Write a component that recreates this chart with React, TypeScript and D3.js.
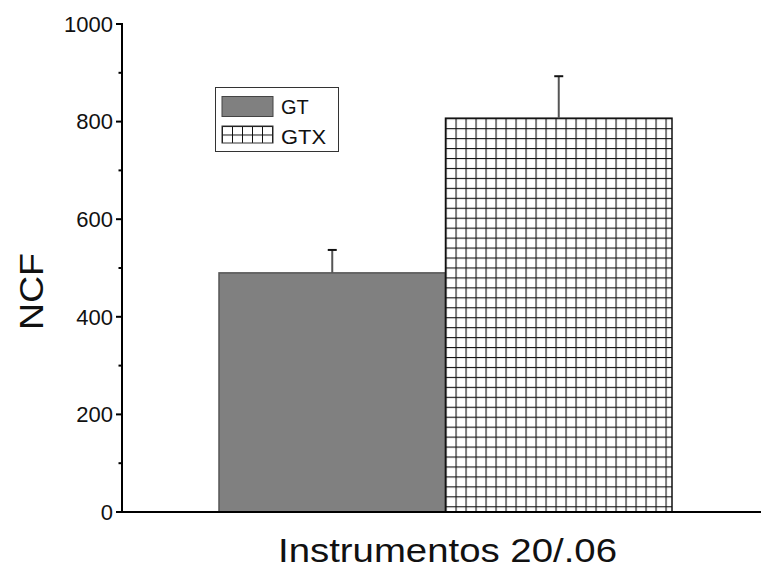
import React from "react";
import * as d3 from "d3";

const categories = ["GT", "GTX"];
const values = [490, 807];
const errors = [47, 86];
const yTicks = [0, 200, 400, 600, 800, 1000];
const yMinorTicks = [100, 300, 500, 700, 900];
const xLabel = "Instrumentos 20/.06";
const yLabel = "NCF";

const W = 761;
const H = 569;
const FONT = "'Liberation Sans', Arial, sans-serif";

export default function App() {
  const y = d3.scaleLinear().domain([0, 1000]).range([512, 24]);
  const x = d3.scaleBand().domain(categories).range([219, 672]).padding(0);
  const axisX = 122;
  const axisY = y(0);

  return (
    <svg
      width={W}
      height={H}
      style={{ position: "absolute", left: 0, top: 0, background: "#fff" }}
      fontFamily={FONT}
    >
      <defs>
        <pattern
          id="gridBar"
          patternUnits="userSpaceOnUse"
          width={10}
          height={9.95}
          x={x("GTX")}
          y={y(values[1])}
        >
          <rect width={10} height={9.95} fill="#fff" />
          <line x1={0.5} y1={0} x2={0.5} y2={9.95} stroke="#111" strokeWidth={1.2} />
          <line x1={0} y1={0.5} x2={10} y2={0.5} stroke="#111" strokeWidth={1.2} />
        </pattern>
        <pattern id="gridLegend" patternUnits="userSpaceOnUse" width={10} height={8.5} x={222} y={126}>
          <rect width={10} height={8.5} fill="#fff" />
          <line x1={0.5} y1={0} x2={0.5} y2={8.5} stroke="#111" strokeWidth={1} />
          <line x1={0} y1={0.5} x2={10} y2={0.5} stroke="#111" strokeWidth={1} />
        </pattern>
      </defs>

      {/* bars */}
      {categories.map((c, i) => {
        const x0 = x(c)!;
        const bw = x.bandwidth();
        const top = y(values[i]);
        return (
          <rect
            key={c}
            x={x0}
            y={top}
            width={bw}
            height={axisY - top}
            fill={i === 0 ? "#808080" : "url(#gridBar)"}
            stroke={i === 0 ? "#555" : "#111"}
            strokeWidth={1.5}
          />
        );
      })}

      {/* error bars */}
      {categories.map((c, i) => {
        const cx = x(c)! + x.bandwidth() / 2;
        const top = y(values[i]);
        const et = y(values[i] + errors[i]);
        return (
          <g key={c + "-err"} stroke="#555" strokeWidth={2}>
            <line x1={cx} x2={cx} y1={top} y2={et} />
            <line x1={cx - 4.5} x2={cx + 4.5} y1={et} y2={et} stroke="#111" />
          </g>
        );
      })}

      {/* y axis */}
      <line x1={axisX} x2={axisX} y1={y(1000) - 1} y2={axisY + 1} stroke="#000" strokeWidth={2} />
      {yTicks.map((t) => (
        <g key={t}>
          <line x1={axisX - 6} x2={axisX} y1={y(t)} y2={y(t)} stroke="#000" strokeWidth={2} />
          <text
            x={axisX - 9}
            y={y(t)}
            dy="0.35em"
            textAnchor="end"
            fontSize={22}
            fill="#111"
          >
            {t}
          </text>
        </g>
      ))}
      {yMinorTicks.map((t) => (
        <line key={t} x1={axisX - 3.5} x2={axisX} y1={y(t)} y2={y(t)} stroke="#000" strokeWidth={2} />
      ))}

      {/* x axis */}
      <line x1={axisX - 1} x2={W} y1={axisY} y2={axisY} stroke="#000" strokeWidth={2} />

      {/* axis labels */}
      <text
        x={278}
        y={562}
        fontSize={33}
        fill="#111"
        textLength={339}
        lengthAdjust="spacingAndGlyphs"
      >
        {xLabel}
      </text>
      <text
        transform={`translate(43, 330) rotate(-90)`}
        x={0}
        y={0}
        fontSize={34}
        fill="#111"
        textLength={77}
        lengthAdjust="spacingAndGlyphs"
      >
        {yLabel}
      </text>

      {/* legend */}
      <rect x={215.5} y={87.5} width={123} height={64} fill="#fff" stroke="#333" strokeWidth={1} />
      <rect x={222} y={96.5} width={51} height={20} fill="#808080" stroke="#444" strokeWidth={1} />
      <rect x={222} y={126} width={51} height={17} fill="url(#gridLegend)" stroke="#333" strokeWidth={1} />
      <text x={281} y={114} fontSize={20} fill="#111">
        {categories[0]}
      </text>
      <text x={281} y={144} fontSize={20} fill="#111" textLength={45} lengthAdjust="spacingAndGlyphs">
        {categories[1]}
      </text>
    </svg>
  );
}
